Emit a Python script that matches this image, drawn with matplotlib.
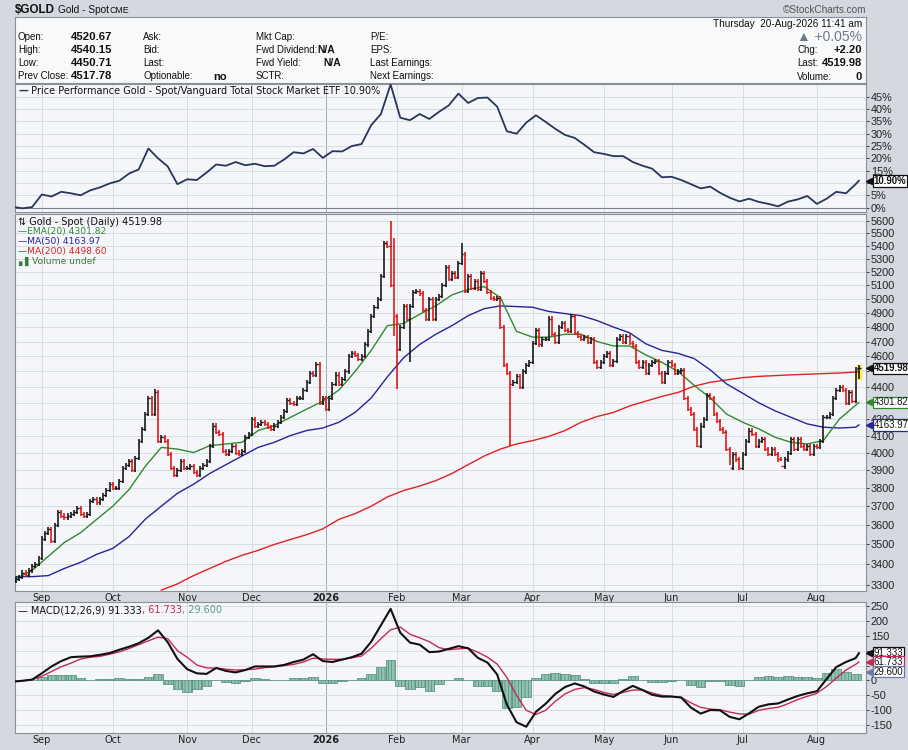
import numpy as np
import pandas as pd
import matplotlib
matplotlib.use("Agg")
import matplotlib.pyplot as plt
import matplotlib.transforms as mtrans
from matplotlib.ticker import FixedLocator, NullLocator

plt.rcParams['font.family'] = ['DejaVu Sans']
plt.rcParams['hatch.linewidth'] = 0.5

W, H = 908, 750
SANS = ['Liberation Sans', 'DejaVu Sans']

# ---------------- data ----------------
days = pd.bdate_range("2025-08-20", "2026-08-20")   # 262 sessions

# daily closes, one list per month
close_aug25 = [3330, 3340, 3360, 3350, 3370, 3390, 3400, 3430]
close_sep = [3530, 3560, 3580, 3520, 3600, 3670, 3650, 3640, 3650, 3660, 3670,
             3690, 3660, 3650, 3660, 3730, 3740, 3720, 3740, 3760, 3790, 3820]
close_oct = [3800, 3800, 3840, 3910, 3930, 3950, 3900, 3970, 4070, 4140, 4230, 4330,
             4230, 4370, 4070, 4090, 4070, 3990, 3910, 3870, 3900, 3950, 3910]
close_nov = [3910, 3920, 3890, 3870, 3910, 3930, 3950, 4040, 4160, 4120,
             4110, 4010, 3990, 4010, 4040, 4000, 3990, 4010, 4090, 4110]
close_dec = [4200, 4160, 4170, 4180, 4170, 4150, 4140, 4160, 4180, 4210, 4250, 4320,
             4300, 4290, 4330, 4330, 4380, 4430, 4490, 4480, 4550, 4300, 4330]
close_jan = [4260, 4330, 4420, 4480, 4420, 4450, 4500, 4600, 4620, 4610, 4580,
             4600, 4680, 4770, 4880, 4940, 5000, 5170, 5420, 5400, 5100, 4880]
close_feb = [4650, 4800, 4950, 4860, 4950, 5050, 5060, 5040, 4920, 4860,
             5000, 4860, 5000, 5020, 5100, 5240, 5150, 5190, 5160, 5270]
close_mar = [5340, 5060, 5170, 5080, 5130, 5070, 5190, 5130, 5050, 5010, 5000,
             5010, 4800, 4540, 4490, 4420, 4430, 4470, 4400, 4500, 4540, 4560]
close_apr = [4690, 4780, 4680, 4720, 4720, 4860, 4750, 4700, 4800, 4830, 4780,
             4770, 4880, 4760, 4740, 4720, 4730, 4700, 4720, 4560, 4530, 4560]
close_may = [4600, 4620, 4540, 4570, 4720, 4740, 4700, 4740, 4690, 4670, 4560,
             4530, 4560, 4490, 4540, 4560, 4570, 4490, 4430, 4490, 4560]
close_jun = [4540, 4490, 4500, 4510, 4330, 4260, 4230, 4140, 4040, 4160, 4200,
             4350, 4330, 4230, 4190, 4140, 4120, 4020, 3910, 3990, 3960, 3910]
close_jul = [3990, 4070, 4130, 4110, 4040, 4070, 4080, 4020, 3990, 4020, 3990, 3960,
             3920, 3960, 3995, 4080, 4020, 4080, 4040, 4020, 4040, 3990, 4040]
close_aug26 = [4030, 4070, 4210, 4210, 4230, 4330, 4380, 4400, 4380, 4300,
               4370, 4310, 4517.78, 4519.98]

first_open = 3320.0
last_open = 4520.67
# bars whose high / low reach well past the open-close range (bar number -> price)
spike_high = {43: 4385, 116: 5600, 117: 5460, 138: 5420, 261: 4540.15}
spike_low = {117: 4740, 118: 4390, 122: 4560, 153: 4040, 211: 4030,
             221: 3930, 224: 3900, 237: 3950, 261: 4450.71}

# lines read every third session
line_idx = np.r_[0, 2:261:3, 261]
perf = [0.1, -0.3, 0.2, 5.3, 4.5, 6.4, 5.8, 5.0, 7.0, 8.2,
        9.8, 10.9, 13.8, 15.5, 24.0, 20.0, 16.7, 9.5, 11.5, 11.2,
        14.2, 17.5, 17.0, 18.5, 17.2, 17.8, 16.8, 17.0, 19.5, 22.5,
        22.0, 23.8, 20.2, 22.9, 22.8, 25.0, 25.8, 33.5, 38.0, 50.0,
        36.5, 35.5, 38.0, 36.0, 38.9, 41.5, 46.3, 42.5, 44.5, 44.7,
        41.0, 31.0, 30.0, 34.5, 37.5, 34.8, 32.0, 29.5, 28.3, 25.5,
        22.5, 21.8, 20.9, 20.9, 18.5, 17.0, 15.8, 12.3, 12.5, 11.2,
        9.5, 7.8, 8.5, 6.0, 4.0, 2.5, 3.6, 2.3, 1.5, 0.5,
        2.4, 3.3, 4.7, 1.5, 3.6, 6.4, 5.8, 9.5, 10.9]
macd = [-3, -1, 3, 24, 47, 65, 78, 80, 81, 86,
        92, 103, 113, 125, 143, 168, 128, 72, 38, 24,
        22, 42, 32, 27, 35, 47, 47, 47, 52, 62,
        70, 88, 65, 62, 70, 78, 90, 130, 185, 240,
        160, 127, 120, 95, 97, 106, 115, 108, 76, 60,
        20, -81, -140, -155, -105, -78, -45, -22, -10, -20,
        -37, -47, -55, -35, -18, -32, -48, -54, -54, -57,
        -91, -111, -99, -100, -122, -130, -110, -88, -80, -77,
        -64, -52, -43, -36, 5, 45, 62, 75, 91.333]
signal = [-3, -1, 2, 14, 30, 46, 58, 72, 78, 81,
          88, 96, 107, 120, 133, 145, 140, 100, 78, 52,
          42, 41, 38, 35, 36, 38, 43, 46, 50, 54,
          62, 75, 72, 71, 71, 76, 82, 108, 140, 170,
          179, 155, 143, 130, 110, 103, 106, 108, 95, 78,
          55, 10, -50, -100, -114, -100, -70, -45, -30, -24,
          -30, -40, -47, -40, -32, -32, -42, -50, -53, -57,
          -75, -90, -96, -98, -106, -112, -113, -100, -94, -90,
          -78, -64, -53, -43, -20, 8, 35, 54, 61.733]

# moving averages read every fifth session
ma_idx = np.r_[0:261:5, 261]
ema20 = [3330, 3370, 3440, 3510, 3560, 3630, 3700, 3790, 3920, 4030,
         4020, 4000, 4040, 4050, 4060, 4130, 4160, 4210, 4260, 4310,
         4380, 4500, 4640, 4810, 4825, 4890, 4950, 5030, 5070, 5090,
         5010, 4770, 4730, 4730, 4750, 4750, 4700, 4670, 4670, 4610,
         4560, 4500, 4410, 4330, 4230, 4180, 4140, 4090, 4060, 4050,
         4070, 4200, 4285, 4301.82]
ma50 = [3340, 3340, 3345, 3380, 3410, 3450, 3480, 3540, 3630, 3700,
        3770, 3820, 3880, 3930, 3980, 4030, 4060, 4100, 4130, 4145,
        4180, 4240, 4330, 4465, 4590, 4680, 4750, 4810, 4880, 4930,
        4950, 4945, 4940, 4910, 4895, 4880, 4845, 4800, 4760, 4685,
        4640, 4620, 4585, 4510, 4420, 4360, 4300, 4250, 4210, 4170,
        4150, 4145, 4150, 4163.97]
ma200_idx = np.r_[45:261:5, 261]
ma200 = [3275, 3305, 3345, 3380, 3415, 3445, 3470, 3500, 3525, 3550,
         3580, 3630, 3660, 3700, 3750, 3785, 3810, 3840, 3880, 3930,
         3980, 4020, 4050, 4070, 4095, 4130, 4180, 4215, 4240, 4280,
         4310, 4340, 4365, 4405, 4430, 4445, 4460, 4468, 4473, 4478,
         4482, 4486, 4490, 4496, 4498.6]

month_names = ["Sep", "Oct", "Nov", "Dec", "2026", "Feb", "Mar",
               "Apr", "May", "Jun", "Jul", "Aug"]
price_ticks = list(range(3300, 5700, 100))
perf_ticks = list(range(0, 50, 5))
macd_ticks = list(range(-150, 300, 50))
# tick labels that sit under a value tag on the right edge
price_covered = [4300, 4500]
perf_covered = [10]
macd_covered = [50, 100]

hdr_rows = [["Open:", "High:", "Low:", "Prev Close:"],
            ["Ask:", "Bid:", "Last:", "Optionable:"],
            ["Mkt Cap:", "Fwd Dividend:", "Fwd Yield:", "SCTR:"],
            ["P/E:", "EPS:", "Last Earnings:", "Next Earnings:"]]
hdr_ohlc = ["4520.67", "4540.15", "4450.71", "4517.78"]

# ---------------- build bars ----------------
closes = np.array(close_aug25 + close_sep + close_oct + close_nov + close_dec +
                  close_jan + close_feb + close_mar + close_apr + close_may +
                  close_jun + close_jul + close_aug26, dtype=float)
n = len(closes)
xs = np.arange(n)
opens = np.r_[first_open, closes[:-1]]
opens[-1] = last_open
wick = 0.003   # drawing margin of the bar ends
highs = np.maximum(opens, closes) * (1 + wick)
lows = np.minimum(opens, closes) * (1 - wick)
for k, v in spike_high.items():
    highs[k] = v
for k, v in spike_low.items():
    lows[k] = v
prev = np.r_[first_open, closes[:-1]]
bar_cols = np.where(closes >= prev, "#111111", "#e01010")

month_pos = [i for i in range(1, n) if days[i].month != days[i - 1].month]

# ---------------- figure ----------------
BG = "#d5d8de"
PANEL = "#f5f6f9"
GRID = "#d9dce3"
EDGE = "#8c9099"

fig = plt.figure(figsize=(W / 100, H / 100), dpi=100, facecolor=BG)

def fx(x):
    return x / W

def fy(y):
    return 1 - y / H

def ftext(x, y, s, size=6.8, bold=False, ha="left", color="#111"):
    fig.text(fx(x), fy(y), s, fontsize=size, fontweight="bold" if bold else "normal",
             va="center", ha=ha, color=color, family=SANS)

L, R = 15, 866

# header box
hdr = fig.add_axes([fx(L), fy(83), (R - L) / W, 66 / H])
hdr.set_facecolor("#f8f9fb")
hdr.set_xticks([])
hdr.set_yticks([])
for s in hdr.spines.values():
    s.set_color(EDGE)
    s.set_linewidth(0.8)

ftext(15, 10, "$GOLD", size=8.4, bold=True)
ftext(58, 10, "Gold - Spot", size=7.3)
ftext(110, 10.5, "CME", size=6.3)
ftext(866, 10, "\u00a9StockCharts.com", size=7.2, ha="right", color="#555")

rows_y = [37, 50, 63, 76]
for col_x, labels in zip([18, 143, 256, 370], hdr_rows):
    for yy, lab in zip(rows_y, labels):
        ftext(col_x, yy, lab, size=7)
for yy, val in zip(rows_y, hdr_ohlc):
    ftext(71, yy, val, size=8.2, bold=True)
ftext(213, 77, "no", size=8, bold=True)
ftext(317, 50, "N/A", size=7.4, bold=True)
ftext(323, 63, "N/A", size=7.4, bold=True)

ftext(862, 24, "Thursday  20-Aug-2026 11:41 am", size=7.2, ha="right")
ftext(862, 37, "\u25b2 +0.05%", size=10, ha="right", color="#6d7a8b")
for yy, lab, val in [(50, "Chg:", "+2.20"), (63, "Last:", "4519.98"), (77, "Volume:", "0")]:
    ftext(797, yy, lab, size=7)
    ftext(862, yy, val, size=8, bold=True, ha="right")

# panels
ax_perf = fig.add_axes([fx(L), fy(212), (R - L) / W, 128 / H])
ax_price = fig.add_axes([fx(L), fy(591), (R - L) / W, 377 / H])
ax_macd = fig.add_axes([fx(L), fy(733), (R - L) / W, 131 / H])

xlim = (-0.3, n - 1 + 2.2)
for ax in (ax_perf, ax_price, ax_macd):
    ax.set_facecolor(PANEL)
    ax.set_xlim(*xlim)
    for s in ax.spines.values():
        s.set_color(EDGE)
        s.set_linewidth(0.8)
    ax.yaxis.tick_right()
    ax.tick_params(axis="y", labelsize=7.8, length=2, pad=1.5, colors="#222", width=0.6,
                   labelfontfamily="Liberation Sans")
    ax.tick_params(axis="x", labelsize=7, length=0, pad=1.5, colors="#222")
    ax.set_xticks(month_pos)
    for p, name in zip(month_pos, month_names):
        c = "#a3a7af" if name == "2026" else GRID
        ax.axvline(p, color=c, lw=0.7, zorder=0)
    ax.yaxis.grid(True, color=GRID, lw=0.7, zorder=0)
    ax.set_axisbelow(True)

for ax in (ax_price, ax_macd):
    ax.set_xticklabels(month_names)
    for t in ax.get_xticklabels():
        if t.get_text() == "2026":
            t.set_fontweight("bold")
ax_perf.set_xticklabels([])


def tag(ax, y, text, ec, bold=False):
    tr = mtrans.blended_transform_factory(ax.transAxes, ax.transData)
    ax.plot([1.004], [y], marker="<", ms=4.5, color=ec, transform=tr, clip_on=False, zorder=6)
    ax.text(1.009, y, text, transform=tr, fontsize=6.9, va="center", ha="left",
            color="#111", fontweight="bold" if bold else "normal", clip_on=False,
            family=SANS,
            bbox=dict(boxstyle="square,pad=0.08", fc="white", ec=ec, lw=0.9), zorder=5)


def tick_text(ticks, covered, fmt="{}"):
    return ["" if v in covered else fmt.format(v) for v in ticks]


# ---- performance panel
lx = line_idx
ax_perf.plot(lx, perf, color="#27365a", lw=1.3, zorder=3)
ax_perf.axhline(0, color="#7d828b", lw=0.8, zorder=1)
ax_perf.set_ylim(-1.8, 50.2)
ax_perf.yaxis.set_major_locator(FixedLocator(perf_ticks))
ax_perf.set_yticklabels(tick_text(perf_ticks, perf_covered, "{}%"))
t = ax_perf.text(0.004, 0.985, "\u2014", transform=ax_perf.transAxes, fontsize=7,
                 va="top", color="#27365a", fontweight="bold")
ax_perf.annotate(" Price Performance Gold - Spot/Vanguard Total Stock Market ETF 10.90%",
                 xy=(1, 0), xycoords=t, va="bottom", ha="left", fontsize=7, color="#111")
tag(ax_perf, 10.9, "10.90%", "#111", bold=True)

# ---- price panel
ax_price.set_yscale("log")
ax_price.set_ylim(3271, 5657)
ax_price.yaxis.set_major_locator(FixedLocator(price_ticks))
ax_price.yaxis.set_minor_locator(NullLocator())
ax_price.set_yticklabels(tick_text(price_ticks, price_covered))

ax_price.fill_between([n - 1.6, n - 0.4], lows[-1], highs[-1], color="#ffee33", zorder=2)
ax_price.plot(ma200_idx, ma200, color="#e52020", lw=1.0, zorder=3)
ax_price.plot(ma_idx, ma50, color="#25259a", lw=1.0, zorder=3)
ax_price.plot(ma_idx, ema20, color="#2f8a2f", lw=1.0, zorder=3)
ax_price.vlines(xs, lows, highs, colors=bar_cols, lw=1.15, zorder=4)
ax_price.hlines(opens, xs - 0.5, xs, colors=bar_cols, lw=1.0, zorder=4)
ax_price.hlines(closes, xs, xs + 0.5, colors=bar_cols, lw=1.0, zorder=4)

leg = [("\u21c5 Gold - Spot (Daily) 4519.98", "#111"),
       ("\u2014EMA(20) 4301.82", "#2f8a2f"),
       ("\u2014MA(50) 4163.97", "#25259a"),
       ("\u2014MA(200) 4498.60", "#e52020"),
       ("\u2596\u258cVolume undef", "#3d7a3d")]
for k, (txt, c) in enumerate(leg):
    ax_price.text(0.004, 0.993 - k * 0.0265, txt, transform=ax_price.transAxes,
                  fontsize=7 if k == 0 else 6.6, va="top", color=c)

tag(ax_price, 4519.98, "4519.98", "#111", bold=True)
tag(ax_price, 4301.82, "4301.82", "#2f8a2f")
tag(ax_price, 4163.97, "4163.97", "#25259a")

# ---- MACD panel
hist = np.array(macd) - np.array(signal)
ax_macd.bar(lx[1:-1], hist[1:-1], width=3, color="#93c2b2", edgecolor="#4e8c78",
            hatch="|||||", lw=0.5, zorder=2)
ax_macd.plot(lx, signal, color="#c42a55", lw=1.0, zorder=3)
ax_macd.plot(lx, macd, color="#111", lw=1.5, zorder=4)
ax_macd.set_ylim(-176, 263)
ax_macd.yaxis.set_major_locator(FixedLocator(macd_ticks))
ax_macd.set_yticklabels(tick_text(macd_ticks, macd_covered))
m1 = ax_macd.text(0.004, 0.975, "\u2014 MACD(12,26,9) 91.333", transform=ax_macd.transAxes,
                  fontsize=7, va="top", color="#111")
m2 = ax_macd.annotate(", 61.733", xy=(1, 0), xycoords=m1, va="bottom", ha="left",
                      fontsize=7, color="#c42a55")
ax_macd.annotate(", 29.600", xy=(1, 0), xycoords=m2, va="bottom", ha="left",
                 fontsize=7, color="#5a9f8a")
tag(ax_macd, 91.333, "91.333", "#111")
tag(ax_macd, 61.733, "61.733", "#c42a55")
tag(ax_macd, 29.6, "29.600", "#6b79b0")

fig.savefig("out.png", dpi=100, facecolor=BG)
